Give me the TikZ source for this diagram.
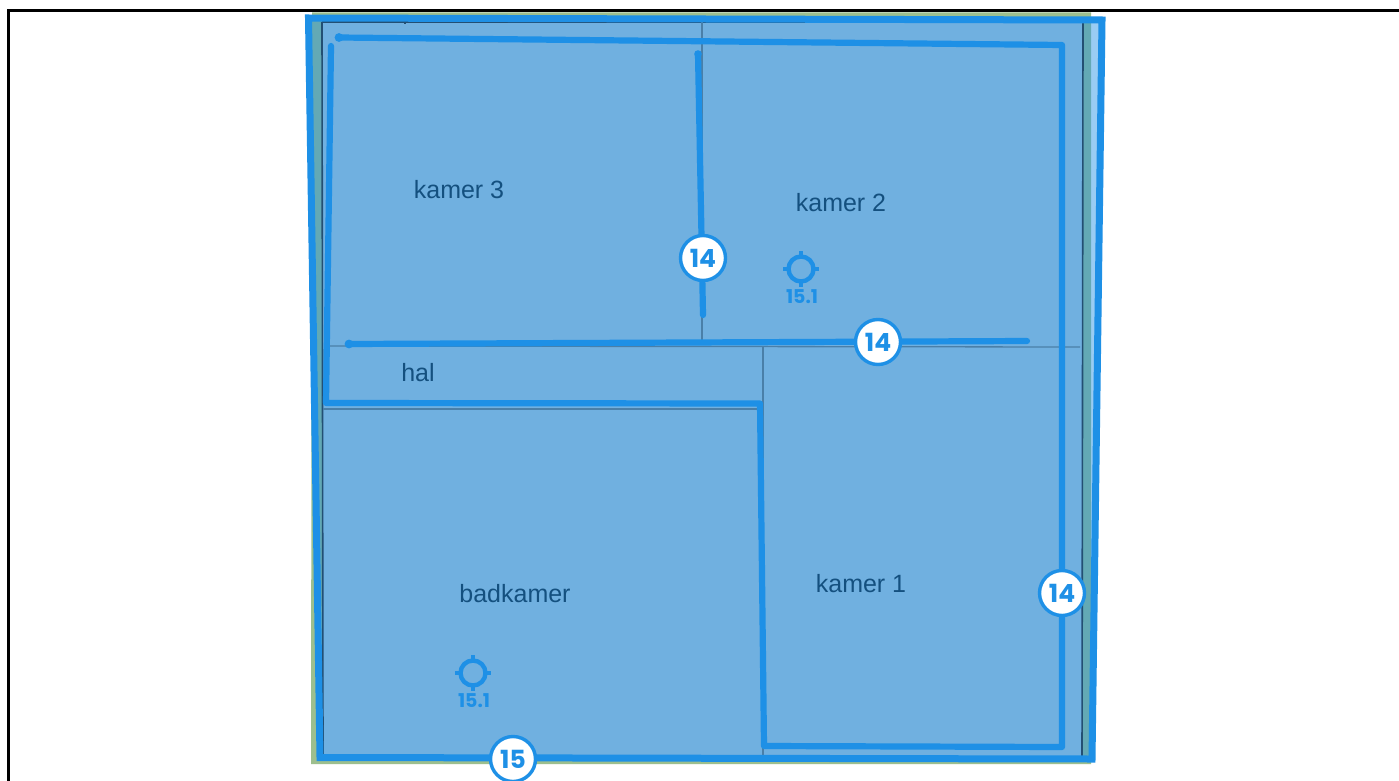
\documentclass[tikz,border=0pt]{standalone}
\usepackage{xcolor}
\usepackage{fontspec}
\setmainfont{Liberation Sans}
\newfontfamily\badgefont{Poppins}
\usetikzlibrary{positioning}
\definecolor{planblue}{HTML}{1E90E6}
\definecolor{roomblue}{HTML}{70B0E0}
\definecolor{basegreen}{HTML}{9DBF8E}
\definecolor{thinline}{HTML}{4A7FA8}
\definecolor{darkline}{HTML}{234F73}
\definecolor{roomtext}{HTML}{14507F}

\begin{document}
\begin{tikzpicture}[
    x=1pt, y=-1pt,
    wall/.style={draw=planblue, line width=6.2pt, line cap=round, line join=round},
    thin wall/.style={draw=thinline, line width=1.3pt},
    edge wall/.style={draw=darkline, line width=1.6pt},
    room/.style={anchor=base, text=roomtext, font=\fontsize{25}{28}\selectfont},
    badge/.style={circle, draw=planblue, fill=white, line width=3.4pt, minimum size=45pt, inner sep=0pt, text=planblue, font=\fontsize{25}{28}\badgefont\bfseries},
    target label/.style={text=planblue, inner sep=0pt, font=\fontsize{19}{22}\badgefont\bfseries}
]

\useasboundingbox (0,0) rectangle (1399,781);
\fill[white] (0,0) rectangle (1399,781);
\draw[black, line width=3pt] (8,781) -- (8,11) -- (1399,11);

\fill[basegreen] (312,12.5) -- (1091,12.5) -- (1091,764) -- (311,764) -- cycle;
\fill[planblue, opacity=.45] (308.5,18) -- (1102,20) -- (1092,759) -- (320,757.5) -- cycle;
\fill[roomblue] (322,22) -- (1083,22) -- (1082,757) -- (323,757) -- cycle;

\draw[edge wall] (322,22) -- (1083,22) -- (1082,757);
\draw[edge wall] (322,22) -- (323,757);
\draw[thin wall] (702,22) -- (702,345);
\draw[thin wall] (330,346) -- (1080,347);
\draw[thin wall] (763,347) -- (763,755);
\draw[thin wall] (323,409) -- (757,409);
\draw[edge wall] (405,22) -- (405,24);

\draw[draw=planblue, line width=7pt, line join=miter] (308.5,18) -- (1102,20) -- (1092,759) -- (320,757.5) -- cycle;
\draw[wall] (339,37.5) -- (1062,45) -- (1062,747) -- (764,746) -- (760,403.5) -- (326,403) -- (331,46);
\draw[wall] (698,54) -- (703,315);
\draw[wall] (349,344) -- (1027,341);
\fill[planblue] (339,37.5) circle[radius=4.4pt] (698,54) circle[radius=3.8pt] (349,344) circle[radius=4.4pt];

\node[room] (kamer3) at (459,198) {kamer 3};
\node[room] (kamer2) at (841,211) {kamer 2};
\node[room] (hal) at (418,381) {hal};
\node[room] (badkamer) at (515,602) {badkamer};
\node[room] (kamer1) at (861,592) {kamer 1};

\foreach \tx/\ty/\tname in {801/269/targettwo, 473/673/targetbad} {
    \draw[planblue, line width=4.4pt] (\tx,\ty) circle[radius=12.5pt];
    \draw[planblue, line width=4.4pt]
        (\tx,\ty-18) -- (\tx,\ty-10) (\tx,\ty+10) -- (\tx,\ty+18)
        (\tx-18,\ty) -- (\tx-10,\ty) (\tx+10,\ty) -- (\tx+18,\ty);
    \node[target label] (\tname) at (\tx+1,\ty+28) {15.1};
}

\node[badge] (badgeinner) at (703,258) {14};
\node[badge] (badgehal) at (878,342) {14};
\node[badge] (badgeright) at (1062,593) {14};
\node[badge] (badgebottom) at (513,759) {15};

\end{tikzpicture}
\end{document}
